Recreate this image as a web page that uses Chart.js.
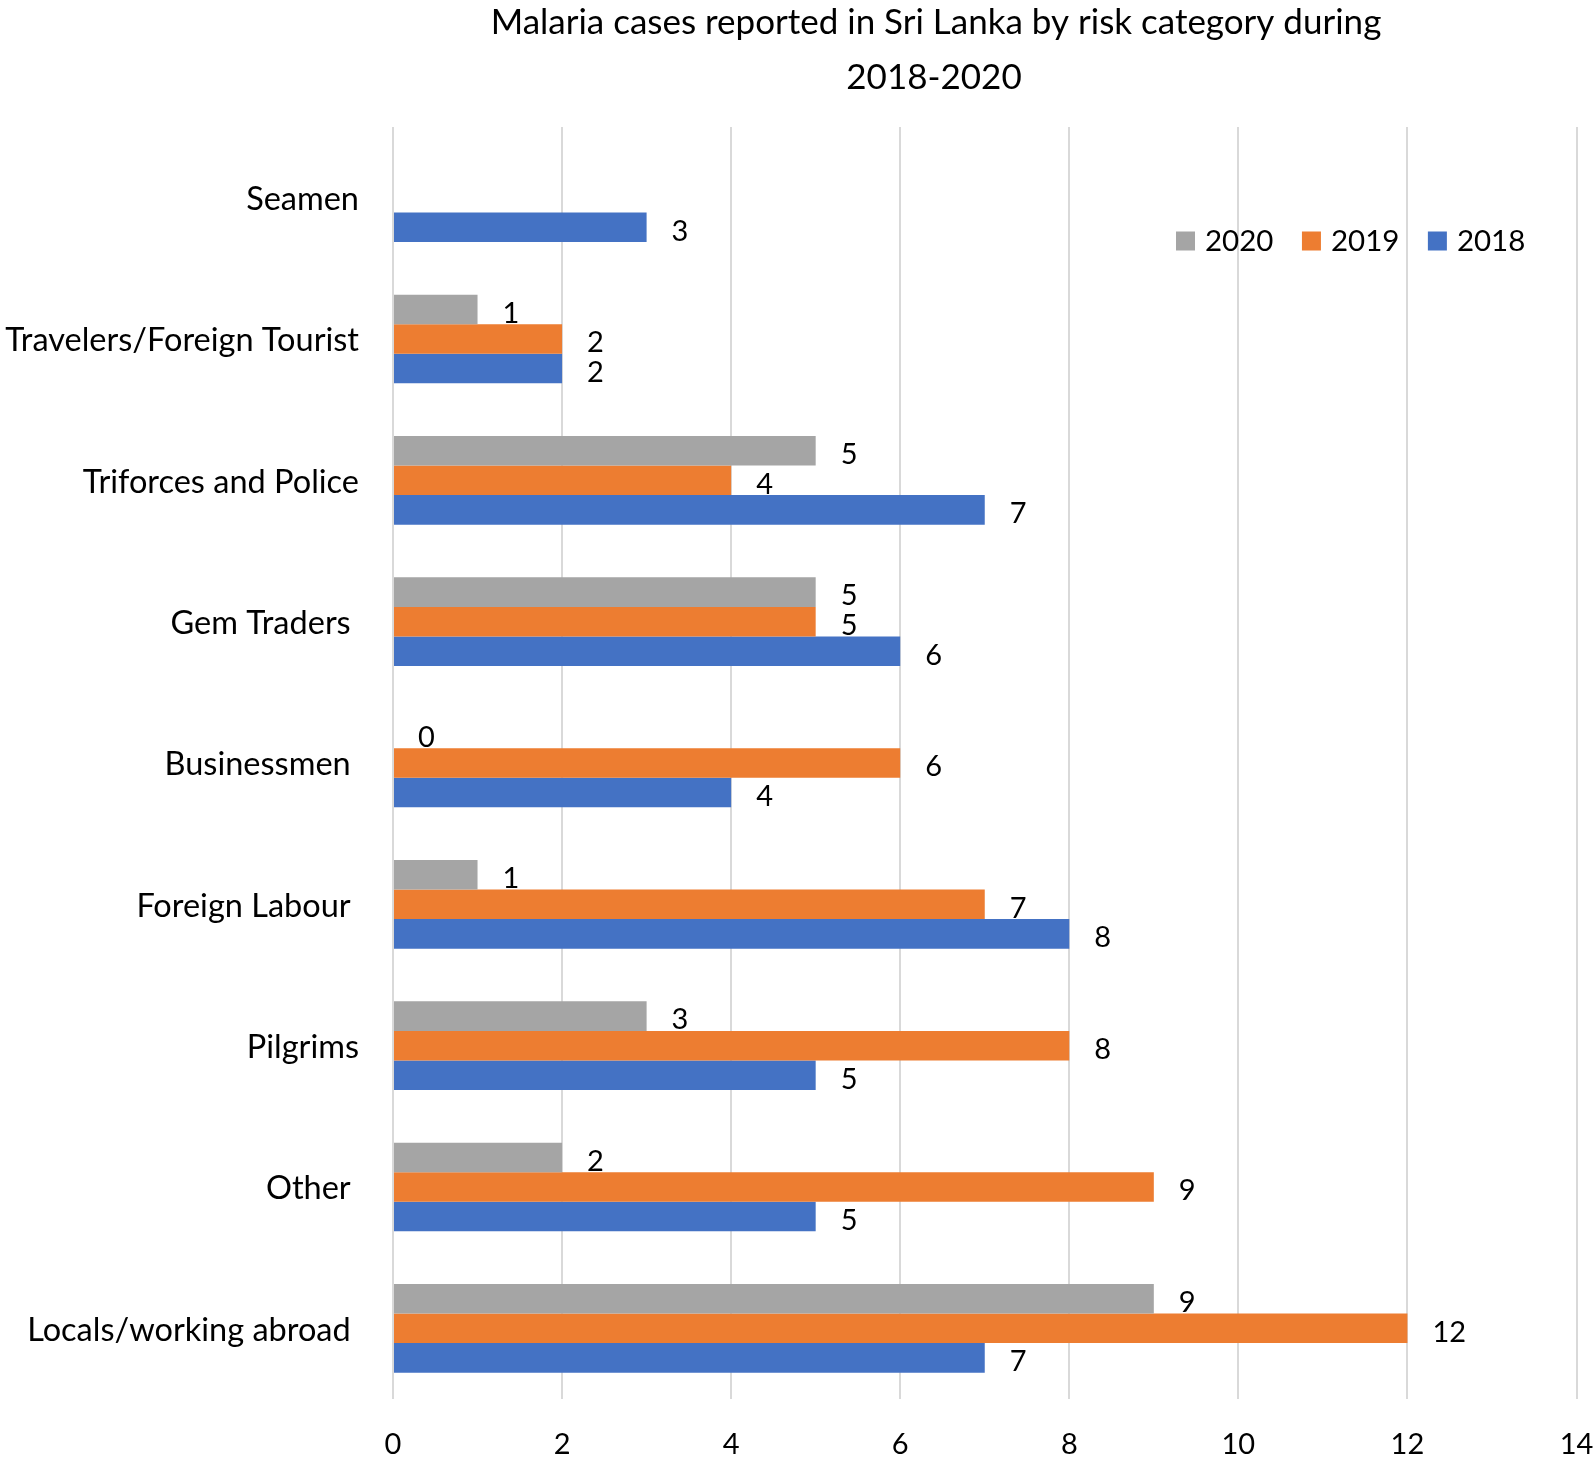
<!DOCTYPE html>
<html>
<head>
<meta charset="utf-8">
<title>Malaria cases reported in Sri Lanka by risk category</title>
<script src="https://cdn.jsdelivr.net/npm/chart.js@4.4.1/dist/chart.umd.min.js"></script>
<style>
  html, body { margin: 0; padding: 0; background: #fff; }
  #wrap { width: 1594px; height: 1466px; }
</style>
</head>
<body>
<div id="wrap"><canvas id="malariaChart"></canvas></div>
<script>
/* Données du graphique */
const categories = [
  'Seamen',
  'Travelers/Foreign Tourist',
  'Triforces and Police',
  'Gem Traders ',
  'Businessmen ',
  'Foreign Labour ',
  'Pilgrims',
  'Other ',
  'Locals/working abroad '
];
const cases2020 = [null, 1, 5, 5, 0, 1, 3, 2, 9];
const cases2019 = [null, 2, 4, 5, 6, 7, 8, 9, 12];
const cases2018 = [3, 2, 7, 6, 4, 8, 5, 5, 7];
const xTicks = [0, 2, 4, 6, 8, 10, 12, 14];
const titleLines = ['Malaria cases reported in Sri Lanka by risk category during', '2018-2020'];

const FONT_FAMILY = "Lato, 'Noto Sans', sans-serif";
Chart.defaults.font.family = FONT_FAMILY;
Chart.defaults.color = '#000';

/* Titre sur deux lignes, décalé vers la droite comme dans Excel */
const titlePlugin = {
  id: 'titlePlugin',
  afterDraw(chart) {
    const ctx = chart.ctx;
    ctx.save();
    ctx.font = '35px ' + FONT_FAMILY;
    ctx.fillStyle = '#000';
    ctx.textAlign = 'center';
    ctx.textBaseline = 'middle';
    ctx.fillText(titleLines[0], 936, 23);
    ctx.fillText(titleLines[1], 934, 78);
    ctx.restore();
  }
};

/* Légende à l'intérieur de la zone de tracé */
const insideLegend = {
  id: 'insideLegend',
  afterDraw(chart) {
    const ctx = chart.ctx;
    ctx.save();
    ctx.font = '29.5px ' + FONT_FAMILY;
    ctx.textAlign = 'left';
    ctx.textBaseline = 'middle';
    let x = 1176;
    const y = 241;
    chart.data.datasets.forEach(ds => {
      ctx.fillStyle = ds.backgroundColor;
      ctx.fillRect(x, y - 9.5, 19, 19);
      ctx.fillStyle = '#000';
      ctx.fillText(ds.label, x + 29, y);
      x += 29 + ctx.measureText(ds.label).width + 28.5;
    });
    ctx.restore();
  }
};

/* Étiquettes de valeurs au bout des barres */
const barLabels = {
  id: 'barLabels',
  afterDatasetsDraw(chart) {
    const ctx = chart.ctx;
    const x0 = chart.scales.x.getPixelForValue(0);
    ctx.save();
    ctx.font = '29px ' + FONT_FAMILY;
    ctx.fillStyle = '#000';
    ctx.textAlign = 'left';
    ctx.textBaseline = 'middle';
    chart.data.datasets.forEach((ds, i) => {
      chart.getDatasetMeta(i).data.forEach((bar, j) => {
        const v = ds.data[j];
        if (v === null || v === undefined) return;
        const end = v === 0 ? x0 : bar.x;
        ctx.fillText(String(v), end + 25, bar.y + 4);
      });
    });
    ctx.restore();
  }
};

new Chart(document.getElementById('malariaChart'), {
  type: 'bar',
  data: {
    labels: categories,
    datasets: [
      { label: '2020', data: cases2020, backgroundColor: '#A5A5A5' },
      { label: '2019', data: cases2019, backgroundColor: '#ED7D31' },
      { label: '2018', data: cases2018, backgroundColor: '#4472C4' }
    ]
  },
  options: {
    indexAxis: 'y',
    responsive: true,
    maintainAspectRatio: false,
    animation: false,
    devicePixelRatio: 1,
    categoryPercentage: 0.627,
    barPercentage: 1,
    layout: { padding: { top: 127, right: 17.5, bottom: 0, left: 0 } },
    plugins: {
      legend: { display: false },
      title: { display: false },
      tooltip: { enabled: false }
    },
    scales: {
      x: {
        min: 0,
        max: 14,
        afterBuildTicks: s => { s.ticks = xTicks.map(v => ({ value: v })); },
        afterFit: s => { s.height = 67; s.paddingLeft = 0; s.paddingRight = 0; },
        grid: { color: '#D9D9D9', lineWidth: 2, drawTicks: false },
        border: { display: false },
        ticks: { font: { size: 29 }, padding: 28, color: '#000' }
      },
      y: {
        afterFit: s => { s.width = 393; s.paddingTop = 0; s.paddingBottom = 0; },
        grid: { display: false, drawTicks: false },
        border: { display: false },
        ticks: { font: { size: 32.5 }, padding: 34, labelOffset: 2, color: '#000' }
      }
    }
  },
  plugins: [titlePlugin, insideLegend, barLabels]
});
</script>
</body>
</html>
